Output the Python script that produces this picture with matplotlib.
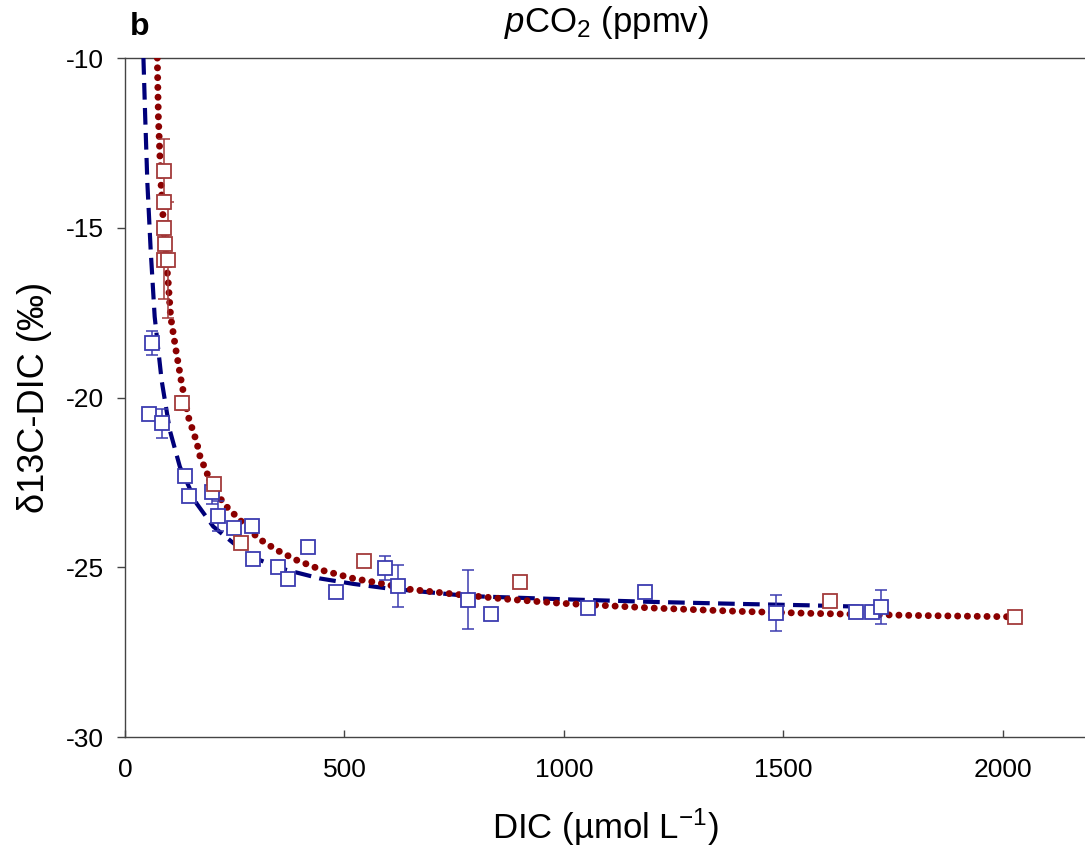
import matplotlib
matplotlib.use("Agg")
import matplotlib.pyplot as plt
import numpy as np

plt.rcParams['font.family'] = ['Liberation Sans', 'DejaVu Sans']
plt.rcParams['mathtext.fontset'] = 'custom'
plt.rcParams['mathtext.rm'] = 'Liberation Sans'
plt.rcParams['mathtext.it'] = 'Liberation Sans:italic'
plt.rcParams['axes.unicode_minus'] = False

# ---- data ----
blue_dic = [54.6, 62, 83.5, 136.7, 145.8, 197.5, 211, 249, 288.6, 292, 347.8, 372,
            417.6, 480, 593, 622.6, 782, 834, 1054, 1184, 1484, 1665, 1701, 1722]
blue_d13c = [-20.49, -18.4, -20.76, -22.3, -22.89, -22.79, -23.49, -23.83, -23.79, -24.77,
             -24.98, -25.35, -24.39, -25.72, -25.03, -25.54, -25.96, -26.38, -26.21,
             -25.74, -26.36, -26.31, -26.31, -26.16]
blue_err = [0, 0.35, 0.42, 0, 0, 0.35, 0.43, 0.12, 0, 0, 0, 0,
            0, 0, 0.36, 0.62, 0.87, 0, 0, 0, 0.53, 0, 0, 0.5]

red_dic = [89, 89, 89.5, 91, 89, 98, 130, 203, 264, 544, 900, 1606, 2027]
red_d13c = [-13.33, -14.24, -15.0, -15.48, -15.95, -15.95, -20.16, -22.55, -24.28,
            -24.82, -25.43, -25.98, -26.46]
red_err = [0.95, 0.2, 0, 0, 1.15, 1.7, 0.2, 0, 0, 0, 0, 0, 0]

blue_fit_x = [42, 46, 51, 58.5, 67.6, 83.5, 102, 125, 163, 201, 247, 307, 368, 444,
              520, 596, 785, 991, 1200, 1400, 1553, 1642, 1720]
blue_fit_y = [-10, -11.73, -13.69, -15.66, -17.62, -19.5, -20.96, -22.04, -23.12, -23.8,
              -24.29, -24.79, -25.08, -25.33, -25.49, -25.62, -25.85, -25.94, -26.02,
              -26.08, -26.12, -26.15, -26.18]

red_fit_x = [73.6, 76, 82, 90, 98.7, 104, 116, 129, 144, 163, 171, 190, 224, 262, 304,
             345, 391, 452, 520, 581, 649, 756, 870, 991, 1200, 1400, 1567, 1800, 2027]
red_fit_y = [-10, -11.73, -13.69, -15.4, -16.64, -17.62, -18.6, -19.58, -20.56, -21.3,
             -21.74, -22.33, -23.12, -23.61, -24.15, -24.49, -24.79, -25.1, -25.33,
             -25.47, -25.65, -25.8, -25.94, -26.06, -26.2, -26.3, -26.36, -26.42, -26.46]

x_ticks = [0, 500, 1000, 1500, 2000]
y_ticks = [-30, -25, -20, -15, -10]

# ---- styles ----
blue_c = '#3c3cb0'
red_c = '#a33a3a'
blue_line = '#00007a'
red_line = '#8b0000'

fig = plt.figure(figsize=(10.85, 8.5), dpi=100)
ax = fig.add_axes([125/1085, 1 - 737/850, 1 - 125/1085, (737 - 58)/850])

ax.plot(blue_fit_x, blue_fit_y, color=blue_line, lw=3.0,
        linestyle=(0, (4.0, 2.0)), dash_capstyle='butt', zorder=3)
ax.plot(red_fit_x, red_fit_y, color=red_line, lw=5.0,
        linestyle=(0, (0.01, 1.4)), dash_capstyle='round', zorder=3)

be = np.array(blue_err)
re = np.array(red_err)
bm = be > 0
rm = re > 0
ax.errorbar(np.array(blue_dic)[bm], np.array(blue_d13c)[bm], yerr=be[bm], fmt='none',
            ecolor=blue_c, elinewidth=1.1, capsize=4, capthick=1.1, zorder=4)
ax.errorbar(np.array(red_dic)[rm], np.array(red_d13c)[rm], yerr=re[rm], fmt='none',
            ecolor=red_c, elinewidth=1.1, capsize=4, capthick=1.1, zorder=4)

ax.plot(blue_dic, blue_d13c, linestyle='none', marker='s', ms=9.8, mfc='white',
        mec=blue_c, mew=1.3, zorder=5)
ax.plot(red_dic, red_d13c, linestyle='none', marker='s', ms=9.8, mfc='white',
        mec=red_c, mew=1.3, zorder=5)

ax.set_xlim(0, 2187)
ax.set_ylim(-30, -10)
ax.set_xticks(x_ticks)
ax.set_yticks(y_ticks)
ax.set_xticklabels([str(v) for v in x_ticks])
ax.set_yticklabels([str(v) for v in y_ticks])

for s in ['top', 'bottom', 'left']:
    ax.spines[s].set_color('#444444')
    ax.spines[s].set_linewidth(1.0)
ax.spines['right'].set_visible(False)

ax.tick_params(axis='x', direction='in', length=5, width=1, color='#444444',
               labelsize=19, pad=15, top=False)
ax.tick_params(axis='y', direction='out', length=6, width=1, color='#444444',
               labelsize=19, pad=9, right=False)

ax.set_xlabel('DIC (µmol L$^{-1}$)', fontsize=25, labelpad=18)
ax.set_ylabel('δ13C-DIC (‰)', fontsize=26, labelpad=10)

fig.text(0.5585, 0.973, '$p$CO$_2$ (ppmv)', fontsize=25, ha='center', va='center')
fig.text(0.129, 0.968, 'b', fontsize=23, fontweight='bold', ha='center', va='center')

fig.savefig('out.png', dpi=100)
